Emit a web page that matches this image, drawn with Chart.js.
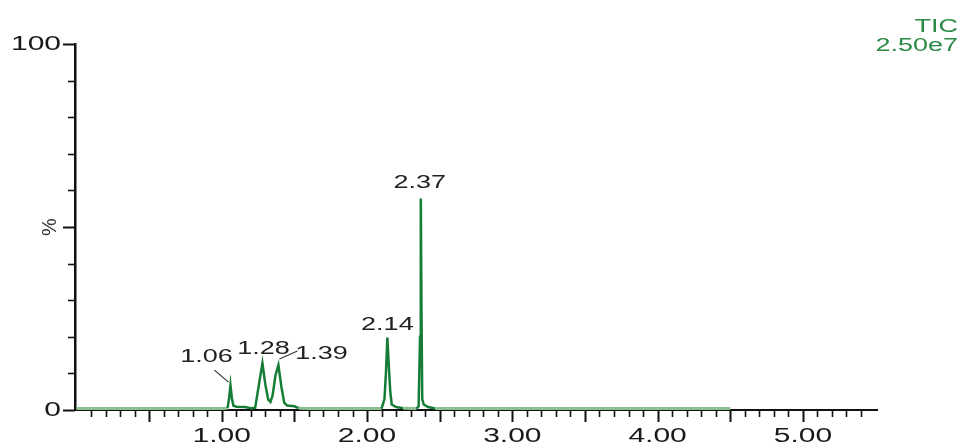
<!DOCTYPE html>
<html>
<head>
<meta charset="utf-8">
<script src="https://cdn.jsdelivr.net/npm/chart.js@4"></script>
<style>
  html, body { margin: 0; padding: 0; background: #fff; }
  #wrap { width: 961px; height: 446px; }
</style>
</head>
<body>
<div id="wrap"><canvas id="ticChart"></canvas></div>
<script>
// retention time (min) and relative intensity (%)
const retentionTimes = [
  0.00, 0.50, 1.00, 1.04, 1.05, 1.06, 1.07, 1.08, 1.10, 1.16, 1.20,
  1.23, 1.25, 1.28, 1.30, 1.32, 1.335, 1.35, 1.37, 1.39, 1.41, 1.43,
  1.45, 1.50, 1.53, 1.60, 2.00, 2.10, 2.12, 2.13, 2.14, 2.15, 2.16,
  2.17, 2.20, 2.25, 2.34, 2.355, 2.365, 2.37, 2.375, 2.38, 2.39, 2.42,
  2.47, 3.00, 4.00, 4.50
];
const intensityPct = [
  0.4, 0.4, 0.4, 0.5, 3.0, 6.8, 3.2, 1.2, 0.9, 0.8, 0.5,
  0.6, 5.5, 12.8, 7.0, 2.8, 2.2, 4.0, 9.5, 12.3, 6.5, 2.0,
  1.2, 1.0, 0.5, 0.4, 0.4, 0.4, 3.0, 10.0, 19.8, 12.0, 5.0,
  1.5, 0.8, 0.5, 0.4, 1.0, 20.0, 57.8, 26.0, 3.0, 1.5, 0.8,
  0.4, 0.4, 0.4, 0.4
];
const peakTimes = [1.06, 1.28, 1.39, 2.14, 2.37];
const peakLabels = ["1.06", "1.28", "1.39", "2.14", "2.37"];
const xTickLabels = ["1.00", "2.00", "3.00", "4.00", "5.00"];
const yTickLabels = ["0", "100"];
const yAxisTitle = "%";
const traceName = "TIC";
const traceScale = "2.50e7";

// label placement relative to the peak apex (px)
const labelOffsets = [[-24, -28], [1, -14], [43, -11], [0, -13], [-1, -15]];
const leaderLines = { 0: [-16, -15, -2, -3], 2: [1, -6, 19, -14] };

const STRETCH = 1.5;
const FONT = "'Liberation Sans', Arial, sans-serif";

function wideText(ctx, text, x, y, align, size, color) {
  ctx.save();
  ctx.font = size + "px " + FONT;
  ctx.fillStyle = color;
  ctx.textBaseline = "middle";
  ctx.textAlign = "left";
  const w = ctx.measureText(text).width * STRETCH;
  let left = x;
  if (align === "center") left = x - w / 2;
  if (align === "right") left = x - w;
  ctx.translate(left, y);
  ctx.scale(STRETCH, 1);
  ctx.fillText(text, 0, 0);
  ctx.restore();
}

const axisDecor = {
  id: "axisDecor",
  afterDraw(chart) {
    const ctx = chart.ctx;
    const xs = chart.scales.x;
    const ys = chart.scales.y;
    const area = chart.chartArea;

    ctx.save();
    ctx.strokeStyle = "#111";
    // x ticks: minor every 0.1, longer every 0.5
    xs.ticks.forEach((t) => {
      const tenth = Math.round(t.value * 10);
      if (Math.abs(t.value * 10 - tenth) > 1e-6 || tenth < 1 || tenth > 54) return;
      const major = tenth % 5 === 0;
      const px = Math.round(xs.getPixelForValue(t.value)) + 0.5;
      ctx.lineWidth = major ? 2 : 1.6;
      ctx.beginPath();
      ctx.moveTo(px, area.bottom);
      ctx.lineTo(px, area.bottom + (major ? 12 : 7));
      ctx.stroke();
    });
    // y ticks: every 10, longer at 0 / 50 / 100
    ys.ticks.forEach((t) => {
      const major = t.value % 50 === 0;
      const py = Math.round(ys.getPixelForValue(t.value)) + 0.5;
      ctx.lineWidth = major ? 2 : 1.6;
      ctx.beginPath();
      ctx.moveTo(area.left, py);
      ctx.lineTo(area.left - (major ? 12 : 7), py);
      ctx.stroke();
    });
    ctx.restore();

    xTickLabels.forEach((lbl) => {
      wideText(ctx, lbl, xs.getPixelForValue(Number(lbl)), area.bottom + 26, "center", 20, "#1a1a1a");
    });
    yTickLabels.forEach((lbl) => {
      wideText(ctx, lbl, area.left - 14, ys.getPixelForValue(Number(lbl)), "right", 20, "#1a1a1a");
    });

    // rotated "%"
    ctx.save();
    ctx.translate(50, ys.getPixelForValue(50));
    ctx.rotate(-Math.PI / 2);
    ctx.font = "20px " + FONT;
    ctx.fillStyle = "#333";
    ctx.textAlign = "center";
    ctx.textBaseline = "middle";
    ctx.fillText(yAxisTitle, 0, 0);
    ctx.restore();

    // peak labels
    peakTimes.forEach((pt, i) => {
      const idx = retentionTimes.indexOf(pt);
      const px = xs.getPixelForValue(pt);
      const py = ys.getPixelForValue(intensityPct[idx]);
      const [dx, dy] = labelOffsets[i];
      wideText(ctx, peakLabels[i], px + dx, py + dy, "center", 18, "#222");
      const ln = leaderLines[i];
      if (ln) {
        ctx.save();
        ctx.strokeStyle = "#333";
        ctx.lineWidth = 1.2;
        ctx.beginPath();
        ctx.moveTo(px + ln[0], py + ln[1]);
        ctx.lineTo(px + ln[2], py + ln[3]);
        ctx.stroke();
        ctx.restore();
      }
    });

    // trace name + scale, top right
    wideText(ctx, traceName, 958, 27, "right", 18, "#2b8a45");
    wideText(ctx, traceScale, 958, 46, "right", 18, "#2b8a45");
  },
};

const points = retentionTimes.map((t, i) => ({ x: t, y: intensityPct[i] }));
const isBase = (c) => c.p0.parsed.y < 0.6 && c.p1.parsed.y < 0.6;

new Chart(document.getElementById("ticChart"), {
  type: "line",
  data: {
    datasets: [
      {
        label: traceName,
        data: points,
        borderColor: "#157d36",
        borderWidth: 2.5,
        pointRadius: 0,
        tension: 0,
        fill: false,
        segment: {
          borderColor: (c) => (isBase(c) ? "#8cc08c" : "#157d36"),
          borderWidth: (c) => (isBase(c) ? 3 : 2.5),
        },
      },
    ],
  },
  options: {
    responsive: true,
    maintainAspectRatio: false,
    animation: false,
    layout: { padding: { top: 44, right: 84, left: 0, bottom: 0 } },
    plugins: {
      legend: { display: false },
      tooltip: { enabled: false },
    },
    scales: {
      x: {
        type: "linear",
        min: -0.01,
        max: 5.51,
        grid: { display: false },
        border: { display: true, color: "#111", width: 2 },
        ticks: { display: false, stepSize: 0.1 },
        afterFit: (s) => { s.height = 36; },
      },
      y: {
        min: 0,
        max: 100,
        grid: { display: false },
        border: { display: true, color: "#111", width: 2.5 },
        ticks: { display: false, stepSize: 10 },
        afterFit: (s) => { s.width = 75; },
      },
    },
  },
  plugins: [axisDecor],
});
</script>
</body>
</html>
